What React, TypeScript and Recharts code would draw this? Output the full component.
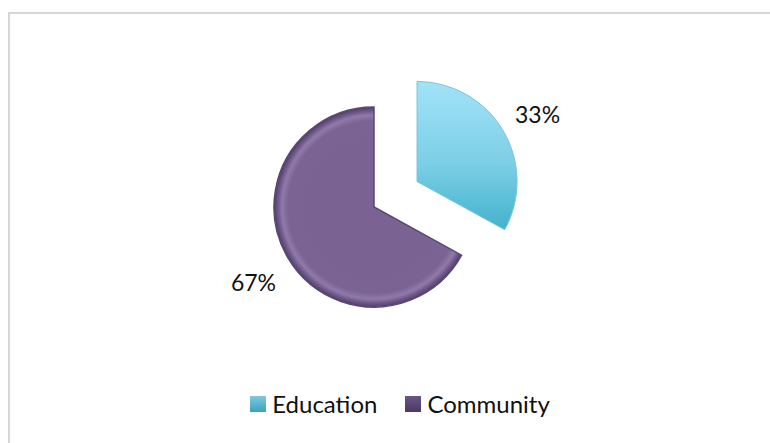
import React from 'react';
import { PieChart, Pie, Cell, Legend } from 'recharts';

const categories = ['Education', 'Community'];
const values = [33, 67];
const fills = ['url(#eduGrad)', 'url(#comGrad)'];
const legendFills = ['url(#eduLegend)', 'url(#comLegend)'];

const data = categories.map((name, i) => ({ name, value: values[i] }));

const W = 770;
const H = 443;
const CX = 374;
const CY = 207;
const R = 100;
const EXPLODE = 50;
const RADIAN = Math.PI / 180;
const FONT = 'Lato, "Open Sans", sans-serif';

const total = values.reduce((a, b) => a + b, 0);
const eduMid = 90 - (360 * values[0]) / total / 2;
const eduCX = CX + EXPLODE * Math.cos(eduMid * RADIAN);
const eduCY = CY - EXPLODE * Math.sin(eduMid * RADIAN);

const makeLabel = (showIndex: number) => (props: any) => {
  const { cx, cy, midAngle, outerRadius, percent, index } = props;
  if (index !== showIndex) return null;
  const r = outerRadius + 40;
  const x = cx + r * Math.cos(-midAngle * RADIAN);
  const y = cy + r * Math.sin(-midAngle * RADIAN) + 4;
  return (
    <text
      x={x}
      y={y}
      textAnchor="middle"
      dominantBaseline="central"
      fill="#111"
      style={{ fontFamily: FONT, fontSize: 23 }}
    >
      {`${Math.round(percent * 100)}%`}
    </text>
  );
};

const LegendContent = () => (
  <div
    style={{
      display: 'flex',
      justifyContent: 'center',
      alignItems: 'center',
      fontFamily: FONT,
      fontSize: 24,
      color: '#111',
      paddingLeft: 30,
    }}
  >
    {categories.map((c, i) => (
      <div key={c} style={{ display: 'flex', alignItems: 'center', marginRight: i === 0 ? 28 : 0 }}>
        <svg width={16} height={16} style={{ marginRight: 6 }}>
          <rect x={0} y={0} width={16} height={16} fill={legendFills[i]} />
        </svg>
        <span>{c}</span>
      </div>
    ))}
  </div>
);

export default function App() {
  return (
    <div style={{ position: 'absolute', left: 0, top: 0, width: W, height: H, background: '#fff' }}>
      <div
        style={{
          position: 'absolute',
          left: 8,
          top: 12,
          width: W,
          height: H,
          border: '2px solid #d6d6d6',
          boxSizing: 'border-box',
        }}
      />
      <svg width={0} height={0} style={{ position: 'absolute' }}>
        <defs>
          <linearGradient id="eduLegend" x1="0" y1="0" x2="0" y2="1">
            <stop offset="0%" stopColor="#7fc9dc" />
            <stop offset="100%" stopColor="#3aa3bd" />
          </linearGradient>
          <linearGradient id="comLegend" x1="0" y1="0" x2="0" y2="1">
            <stop offset="0%" stopColor="#6a5586" />
            <stop offset="100%" stopColor="#4a3a62" />
          </linearGradient>
        </defs>
      </svg>
      <PieChart
        width={W}
        height={H}
        margin={{ top: 0, right: 0, bottom: 0, left: 0 }}
        style={{ position: 'absolute', left: 0, top: 0 }}
      >
        <defs>
          <linearGradient id="eduGrad" x1="0" y1="0" x2="0" y2="1">
            <stop offset="0%" stopColor="#a2e3f8" />
            <stop offset="55%" stopColor="#7ccfe6" />
            <stop offset="100%" stopColor="#42b2cc" />
          </linearGradient>
          <radialGradient id="comGrad" gradientUnits="userSpaceOnUse" cx={CX} cy={CY} r={R}>
            <stop offset="0%" stopColor="#7a6392" />
            <stop offset="86%" stopColor="#7b6493" />
            <stop offset="92%" stopColor="#8f7aaa" />
            <stop offset="96%" stopColor="#70598a" />
            <stop offset="100%" stopColor="#4f3d68" />
          </radialGradient>
        </defs>
        <Pie
          data={data}
          dataKey="value"
          nameKey="name"
          cx={eduCX}
          cy={eduCY}
          outerRadius={R}
          startAngle={90}
          endAngle={-270}
          isAnimationActive={false}
          labelLine={false}
          label={makeLabel(0)}
          stroke="none"
          legendType="none"
        >
          {data.map((d, i) => (
            <Cell key={d.name} fill={i === 0 ? fills[0] : 'none'} stroke={i === 0 ? '#7cc3d6' : 'none'} strokeWidth={1} />
          ))}
        </Pie>
        <Pie
          data={data}
          dataKey="value"
          nameKey="name"
          cx={CX}
          cy={CY}
          outerRadius={R}
          startAngle={90}
          endAngle={-270}
          isAnimationActive={false}
          labelLine={false}
          label={makeLabel(1)}
          stroke="none"
        >
          {data.map((d, i) => (
            <Cell key={d.name} fill={i === 1 ? fills[1] : 'none'} stroke={i === 1 ? '#5a4774' : 'none'} strokeWidth={1.5} />
          ))}
        </Pie>
        <Legend
          content={<LegendContent />}
          wrapperStyle={{ position: 'absolute', top: 389, left: 0, width: W, height: 30 }}
        />
      </PieChart>
    </div>
  );
}
